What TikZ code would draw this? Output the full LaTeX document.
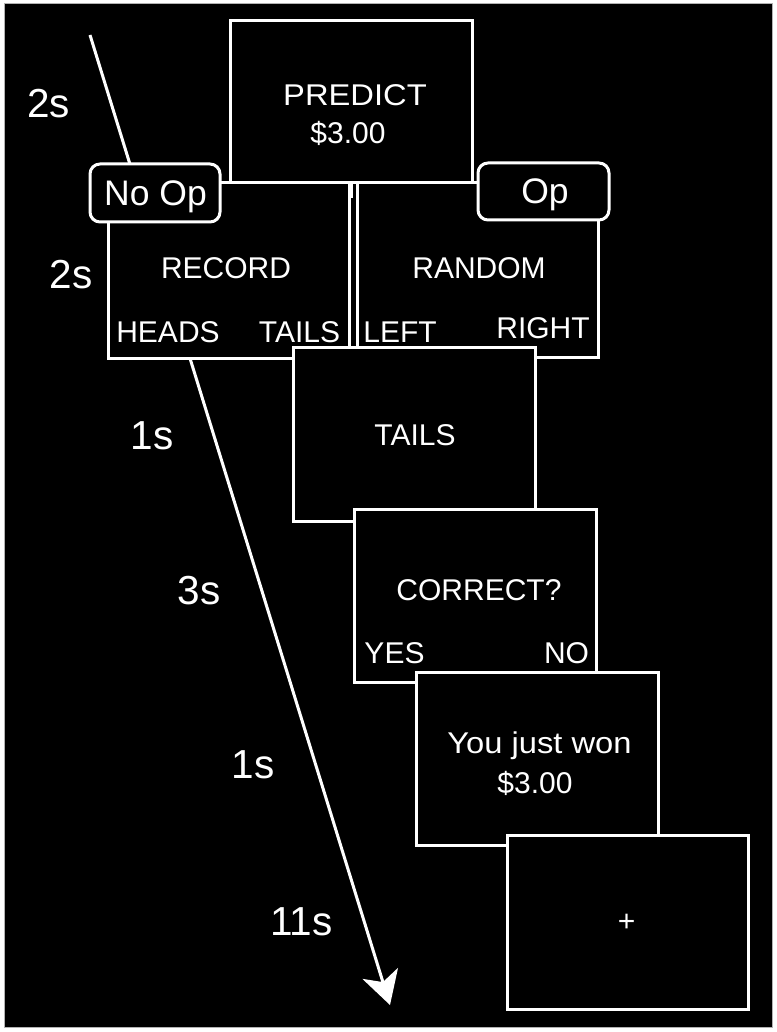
\documentclass[tikz,border=0pt]{standalone}
\usepackage{fontspec}
\setmainfont{Liberation Sans}
\newfontfamily\widefont[FakeStretch=1.09]{Liberation Sans}
\usetikzlibrary{arrows.meta}
\tikzset{
  screen/.style={draw=white, fill=black, line width=3pt, inner sep=0pt, outer sep=0pt},
  pill/.style={screen, rounded corners=10pt},
  txt/.style={text=white, anchor=base, inner sep=0pt, font=\fontsize{30}{36}\selectfont},
  widetxt/.style={txt, font=\widefont\fontsize{30}{36}\selectfont},
  optxt/.style={txt, font=\fontsize{35.5}{40}\selectfont},
  tlabel/.style={txt, font=\fontsize{40.5}{46}\selectfont},
  timeline/.style={draw=white, line width=3pt, -{Stealth[length=33pt,width=37pt,inset=9pt]}},
}
\begin{document}
\begin{tikzpicture}[x=1pt,y=-1pt]
  % page and dark background
  \fill[white] (0,0) rectangle (776,1032);
  \draw[fill=black, draw=gray!60, line width=1pt] (4,4) rectangle (772,1027);
  \useasboundingbox (0,0) rectangle (776,1032);

  % time arrow (behind the screens)
  \coordinate (tstart) at (90,35);
  \coordinate (tend) at (390,1005);
  \draw[timeline] (tstart) -- (tend);

  % screens
  \node[screen, minimum width=242pt, minimum height=162pt] (predict) at (351,102) {};
  \node[screen, minimum width=241pt, minimum height=175pt] (record) at (228.5,270.5) {};
  \node[screen, minimum width=241pt, minimum height=174pt] (random) at (477.5,270) {};
  \coordinate (tickA) at (352,183);
  \coordinate (tickB) at (352,198);
  \draw[white, line width=2pt] (tickA) -- (tickB);
  \node[pill, minimum width=130pt, minimum height=58pt] (noop) at (155,193) {};
  \node[pill, minimum width=131pt, minimum height=57pt] (op) at (543.5,191.5) {};
  \node[screen, minimum width=242pt, minimum height=174pt] (tails) at (414,434) {};
  \node[screen, minimum width=242pt, minimum height=173pt] (correct) at (475,595.5) {};
  \node[screen, minimum width=242pt, minimum height=173pt] (won) at (537,758.5) {};
  \node[screen, minimum width=241pt, minimum height=174pt] (plus) at (627.5,922) {};

  % screen texts
  \node[widetxt] (tpredict) at (355,106) {PREDICT};
  \node[txt] (tprice) at (348,144) {\$3.00};
  \node[optxt] (tnoop) at (155.5,206) {No Op};
  \node[optxt] (top) at (545,204) {Op};
  \node[txt] (trecord) at (226,278) {RECORD};
  \node[txt] (theads) at (168,342) {HEADS};
  \node[txt] (ttailsopt) at (299.5,342) {TAILS};
  \node[txt] (trandom) at (479,278) {RANDOM};
  \node[txt] (tleft) at (400,342) {LEFT};
  \node[txt] (tright) at (543,338) {RIGHT};
  \node[txt] (ttails) at (415,445) {TAILS};
  \node[txt] (tcorrect) at (479,600) {CORRECT?};
  \node[txt] (tyes) at (394.5,663) {YES};
  \node[txt] (tno) at (566.5,663) {NO};
  \node[widetxt] (twon) at (539.5,753) {You just won};
  \node[txt] (twonprice) at (535,793) {\$3.00};
  \node[txt] (tplus) at (626.5,931) {+};

  % durations
  \node[tlabel] (d1) at (48.5,118) {2s};
  \node[tlabel] (d2) at (71,288) {2s};
  \node[tlabel] (d3) at (152,449) {1s};
  \node[tlabel] (d4) at (199,604) {3s};
  \node[tlabel] (d5) at (253,778) {1s};
  \node[tlabel] (d6) at (301.5,935) {11s};
\end{tikzpicture}
\end{document}
